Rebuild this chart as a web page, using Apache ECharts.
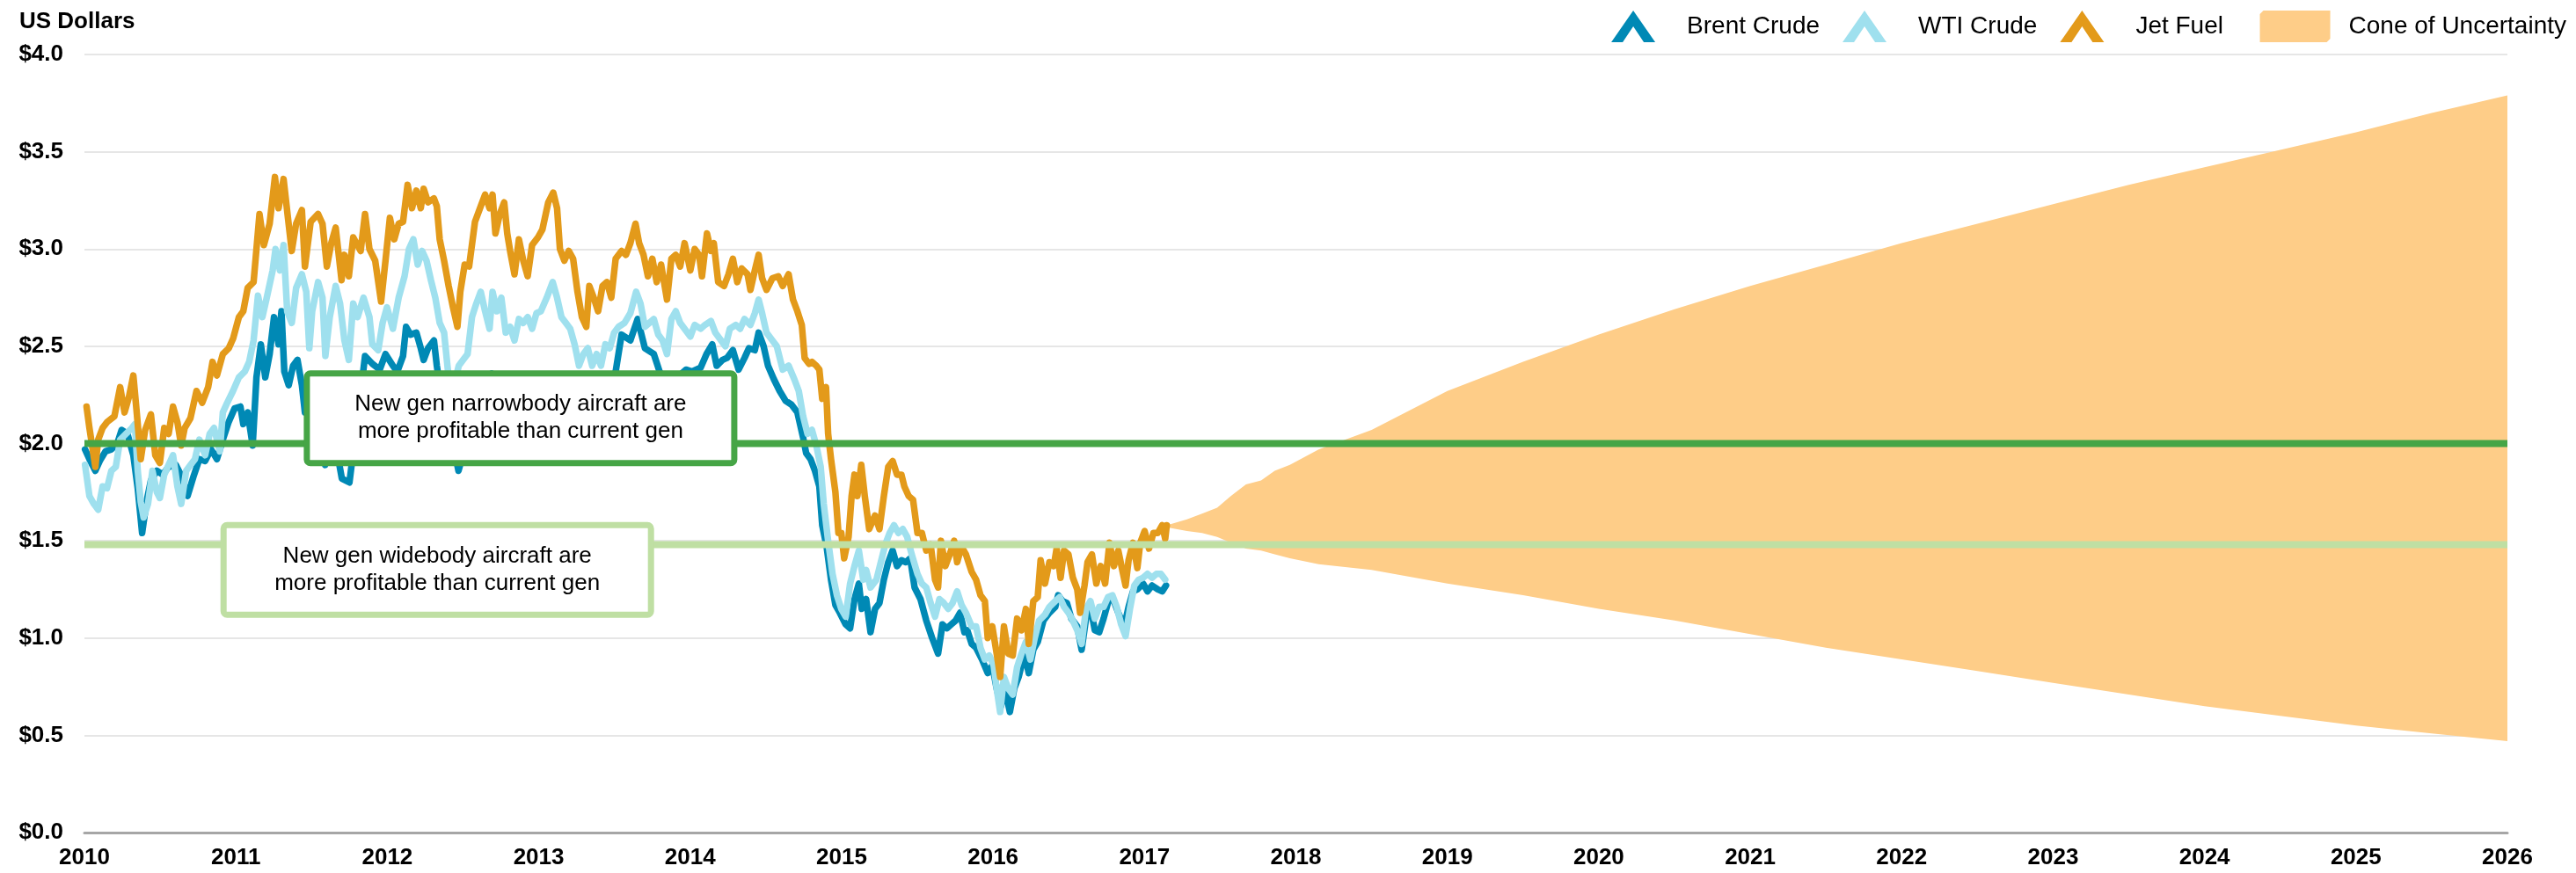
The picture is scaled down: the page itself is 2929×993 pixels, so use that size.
<!DOCTYPE html>
<html>
<head>
<meta charset="utf-8">
<script src="https://cdn.jsdelivr.net/npm/echarts@6/dist/echarts.min.js"></script>
<style>
  html, body { margin: 0; padding: 0; background: #fff; }
  #main { width: 2929px; height: 993px; }
</style>
</head>
<body>
<div id="main"></div>
<script>
// prices in US dollars per gallon, x = decimal year
var jetFuel = [
  [2010.014,2.19],[2010.033,2.08],[2010.072,1.88],[2010.091,2.02],[2010.120,2.08],[2010.149,2.11],[2010.198,2.14],[2010.236,2.29],[2010.265,2.16],[2010.294,2.24],[2010.323,2.35],[2010.343,2.18],[2010.372,1.92],[2010.401,2.07],[2010.439,2.15],[2010.468,1.94],[2010.498,1.90],[2010.527,2.08],[2010.556,2.05],[2010.585,2.19],[2010.614,2.11],[2010.639,1.99],[2010.662,2.08],[2010.700,2.13],[2010.740,2.27],[2010.778,2.21],[2010.817,2.29],[2010.846,2.42],[2010.875,2.35],[2010.914,2.46],[2010.953,2.49],[2010.982,2.54],
  [2011.020,2.65],[2011.049,2.68],[2011.078,2.80],[2011.117,2.83],[2011.136,3.00],[2011.156,3.18],[2011.185,3.02],[2011.223,3.13],[2011.258,3.37],[2011.282,3.21],[2011.315,3.36],[2011.344,3.16],[2011.369,2.99],[2011.398,3.13],[2011.436,3.20],[2011.456,2.91],[2011.494,3.14],[2011.543,3.18],[2011.572,3.13],[2011.601,2.91],[2011.630,3.03],[2011.659,3.11],[2011.698,2.84],[2011.717,2.97],[2011.746,2.86],[2011.775,3.06],[2011.824,2.99],[2011.853,3.18],[2011.882,3.00],[2011.920,2.94],[2011.959,2.73],[2011.988,2.94],
  [2012.017,3.16],[2012.046,3.05],[2012.075,3.13],[2012.104,3.14],[2012.134,3.33],[2012.163,3.21],[2012.192,3.30],[2012.221,3.21],[2012.240,3.31],[2012.269,3.24],[2012.308,3.26],[2012.327,3.22],[2012.346,3.05],[2012.375,2.94],[2012.405,2.81],[2012.434,2.70],[2012.463,2.60],[2012.482,2.78],[2012.511,2.92],[2012.540,2.91],[2012.579,3.14],[2012.617,3.22],[2012.646,3.28],[2012.675,3.21],[2012.695,3.28],[2012.714,3.08],[2012.743,3.18],[2012.772,3.24],[2012.792,3.08],[2012.811,2.99],[2012.840,2.87],[2012.869,3.05],[2012.898,2.94],[2012.927,2.86],[2012.956,3.02],[2012.995,3.06],
  [2013.024,3.10],[2013.063,3.24],[2013.096,3.29],[2013.121,3.21],[2013.140,3.00],[2013.169,2.94],[2013.198,2.99],[2013.227,2.95],[2013.256,2.78],[2013.285,2.65],[2013.314,2.60],[2013.334,2.81],[2013.363,2.75],[2013.392,2.68],[2013.421,2.81],[2013.450,2.83],[2013.479,2.75],[2013.508,2.95],[2013.547,2.99],[2013.576,2.97],[2013.605,3.03],[2013.639,3.13],[2013.663,3.03],[2013.692,2.97],[2013.721,2.86],[2013.750,2.95],[2013.779,2.83],[2013.808,2.92],[2013.847,2.74],[2013.876,2.95],[2013.905,2.97],[2013.934,2.91],[2013.963,3.03],
  [2014.001,2.89],[2014.030,3.00],[2014.059,2.97],[2014.078,2.86],[2014.111,3.08],[2014.137,2.99],[2014.156,3.03],[2014.185,2.83],[2014.224,2.81],[2014.253,2.87],[2014.282,2.95],[2014.311,2.83],[2014.340,2.90],[2014.379,2.87],[2014.398,2.79],[2014.427,2.89],[2014.452,2.97],[2014.475,2.85],[2014.504,2.79],[2014.543,2.85],[2014.582,2.86],[2014.611,2.81],[2014.650,2.87],[2014.679,2.74],[2014.708,2.68],[2014.737,2.61],[2014.756,2.44],[2014.785,2.41],[2014.804,2.42],[2014.833,2.40],[2014.853,2.38],[2014.872,2.23],[2014.897,2.29],[2014.911,2.05],[2014.930,1.92],[2014.959,1.75],[2014.979,1.54],[2014.998,1.54],
  [2015.017,1.41],[2015.046,1.52],[2015.066,1.73],[2015.085,1.84],[2015.104,1.73],[2015.130,1.89],[2015.153,1.73],[2015.182,1.56],[2015.221,1.63],[2015.250,1.56],[2015.279,1.73],[2015.308,1.88],[2015.337,1.91],[2015.366,1.84],[2015.395,1.84],[2015.414,1.78],[2015.443,1.73],[2015.472,1.71],[2015.501,1.54],[2015.530,1.54],[2015.559,1.45],[2015.588,1.48],[2015.617,1.30],[2015.637,1.26],[2015.656,1.50],[2015.685,1.37],[2015.714,1.43],[2015.743,1.50],[2015.763,1.39],[2015.792,1.47],[2015.821,1.43],[2015.859,1.34],[2015.888,1.30],[2015.917,1.22],[2015.946,1.19],[2015.965,1.00],[2015.995,1.06],
  [2016.024,0.92],[2016.047,0.80],[2016.072,1.06],[2016.101,0.92],[2016.130,0.91],[2016.159,1.10],[2016.188,1.04],[2016.217,1.15],[2016.236,0.97],[2016.266,1.19],[2016.295,1.21],[2016.314,1.40],[2016.343,1.28],[2016.372,1.39],[2016.401,1.37],[2016.420,1.46],[2016.446,1.31],[2016.469,1.45],[2016.498,1.43],[2016.527,1.31],[2016.556,1.25],[2016.575,1.13],[2016.604,1.27],[2016.624,1.39],[2016.653,1.43],[2016.682,1.28],[2016.711,1.37],[2016.740,1.28],[2016.769,1.49],[2016.798,1.37],[2016.827,1.45],[2016.856,1.34],[2016.875,1.27],[2016.895,1.40],[2016.924,1.49],[2016.953,1.36],[2016.972,1.49],
  [2017.001,1.55],[2017.030,1.46],[2017.059,1.54],[2017.088,1.54],[2017.117,1.58],[2017.137,1.51],[2017.147,1.58]
];

var brentCrude = [
  [2010.004,1.97],[2010.033,1.92],[2010.072,1.86],[2010.101,1.91],[2010.139,1.96],[2010.178,1.97],[2010.217,2.00],[2010.246,2.07],[2010.284,2.05],[2010.323,1.94],[2010.352,1.77],[2010.381,1.54],[2010.410,1.70],[2010.439,1.81],[2010.478,1.86],[2010.517,1.84],[2010.555,1.88],[2010.604,1.89],[2010.643,1.83],[2010.681,1.73],[2010.720,1.83],[2010.759,1.92],[2010.797,1.91],[2010.836,1.97],[2010.875,1.92],[2010.914,2.02],[2010.952,2.11],[2010.991,2.18],
  [2011.030,2.19],[2011.049,2.10],[2011.078,2.16],[2011.111,1.99],[2011.136,2.34],[2011.165,2.51],[2011.194,2.34],[2011.223,2.46],[2011.252,2.65],[2011.282,2.51],[2011.301,2.68],[2011.320,2.37],[2011.349,2.30],[2011.378,2.40],[2011.407,2.43],[2011.436,2.30],[2011.456,2.16],[2011.494,2.30],[2011.540,2.12],[2011.590,1.89],[2011.630,2.05],[2011.670,1.95],[2011.700,1.82],[2011.750,1.80],[2011.790,2.05],[2011.830,2.30],[2011.853,2.45],[2011.901,2.41],[2011.950,2.38],[2011.988,2.46],
  [2012.037,2.40],[2012.066,2.37],[2012.104,2.45],[2012.124,2.60],[2012.153,2.56],[2012.192,2.57],[2012.221,2.49],[2012.240,2.43],[2012.269,2.49],[2012.308,2.53],[2012.327,2.40],[2012.346,2.30],[2012.380,2.20],[2012.420,2.05],[2012.470,1.86],[2012.520,2.00],[2012.580,2.15],[2012.650,2.25],[2012.690,2.36],[2012.750,2.20],[2012.800,2.25],[2012.850,2.05],[2012.900,2.10],[2012.950,2.15],
  [2013.000,2.20],[2013.050,2.28],[2013.100,2.30],[2013.150,2.20],[2013.200,2.15],[2013.270,2.08],[2013.330,2.18],[2013.400,2.22],[2013.460,2.30],[2013.508,2.37],[2013.547,2.56],[2013.605,2.53],[2013.653,2.64],[2013.701,2.49],[2013.760,2.46],[2013.798,2.37],[2013.850,2.30],[2013.900,2.33],[2013.972,2.38],
  [2014.011,2.37],[2014.069,2.39],[2014.108,2.46],[2014.146,2.51],[2014.175,2.40],[2014.214,2.43],[2014.243,2.44],[2014.282,2.48],[2014.320,2.38],[2014.359,2.44],[2014.388,2.49],[2014.427,2.48],[2014.452,2.57],[2014.485,2.50],[2014.514,2.40],[2014.553,2.33],[2014.591,2.27],[2014.630,2.22],[2014.669,2.20],[2014.708,2.16],[2014.746,2.03],[2014.766,1.95],[2014.795,1.92],[2014.824,1.86],[2014.853,1.78],[2014.872,1.58],[2014.901,1.47],[2014.930,1.30],[2014.959,1.17],[2014.988,1.13],
  [2015.027,1.07],[2015.056,1.05],[2015.085,1.20],[2015.114,1.28],[2015.133,1.15],[2015.162,1.20],[2015.191,1.03],[2015.221,1.15],[2015.250,1.18],[2015.279,1.30],[2015.308,1.39],[2015.337,1.45],[2015.366,1.37],[2015.395,1.40],[2015.424,1.39],[2015.453,1.41],[2015.482,1.26],[2015.521,1.20],[2015.559,1.09],[2015.598,1.00],[2015.637,0.92],[2015.666,1.07],[2015.695,1.05],[2015.724,1.07],[2015.753,1.09],[2015.782,1.13],[2015.811,1.03],[2015.830,1.04],[2015.859,0.97],[2015.888,0.95],[2015.927,0.89],[2015.965,0.82],[2015.995,0.86],
  [2016.024,0.74],[2016.053,0.65],[2016.072,0.76],[2016.111,0.62],[2016.140,0.74],[2016.169,0.80],[2016.207,0.92],[2016.236,0.82],[2016.266,0.94],[2016.295,0.98],[2016.333,1.09],[2016.372,1.13],[2016.411,1.16],[2016.430,1.22],[2016.459,1.19],[2016.488,1.18],[2016.517,1.10],[2016.556,1.06],[2016.585,0.94],[2016.614,1.10],[2016.643,1.16],[2016.672,1.04],[2016.701,1.03],[2016.730,1.10],[2016.769,1.21],[2016.798,1.19],[2016.827,1.13],[2016.866,1.06],[2016.895,1.16],[2016.924,1.24],[2016.953,1.25],[2016.991,1.28],
  [2017.020,1.24],[2017.050,1.27],[2017.088,1.25],[2017.117,1.24],[2017.142,1.27]
];

var wtiCrude = [
  [2010.004,1.89],[2010.033,1.73],[2010.062,1.69],[2010.091,1.66],[2010.120,1.78],[2010.149,1.77],[2010.178,1.86],[2010.207,1.88],[2010.236,2.02],[2010.275,2.05],[2010.314,2.08],[2010.333,2.10],[2010.352,1.86],[2010.372,1.70],[2010.391,1.62],[2010.420,1.69],[2010.449,1.86],[2010.478,1.75],[2010.498,1.72],[2010.527,1.84],[2010.556,1.89],[2010.585,1.94],[2010.614,1.78],[2010.639,1.69],[2010.672,1.86],[2010.701,1.89],[2010.730,1.92],[2010.759,2.02],[2010.797,1.94],[2010.827,2.05],[2010.856,2.08],[2010.894,1.96],[2010.914,2.16],[2010.943,2.21],[2010.981,2.27],
  [2011.020,2.34],[2011.059,2.37],[2011.088,2.42],[2011.117,2.53],[2011.146,2.76],[2011.175,2.65],[2011.204,2.75],[2011.243,2.89],[2011.262,3.00],[2011.291,2.89],[2011.315,3.02],[2011.339,2.68],[2011.369,2.62],[2011.398,2.80],[2011.436,2.87],[2011.465,2.78],[2011.485,2.49],[2011.504,2.68],[2011.543,2.83],[2011.572,2.75],[2011.591,2.45],[2011.620,2.65],[2011.659,2.81],[2011.688,2.72],[2011.717,2.53],[2011.746,2.43],[2011.775,2.72],[2011.804,2.65],[2011.843,2.75],[2011.882,2.65],[2011.901,2.51],[2011.940,2.48],[2011.969,2.62],[2011.998,2.70],
  [2012.037,2.59],[2012.075,2.75],[2012.114,2.86],[2012.143,3.00],[2012.172,3.05],[2012.201,2.92],[2012.230,2.99],[2012.259,2.94],[2012.288,2.84],[2012.317,2.75],[2012.346,2.62],[2012.375,2.57],[2012.405,2.34],[2012.434,2.28],[2012.472,2.40],[2012.501,2.43],[2012.530,2.46],[2012.559,2.65],[2012.588,2.72],[2012.617,2.78],[2012.646,2.68],[2012.675,2.59],[2012.695,2.78],[2012.724,2.68],[2012.753,2.75],[2012.782,2.57],[2012.811,2.60],[2012.840,2.53],[2012.869,2.64],[2012.898,2.62],[2012.927,2.65],[2012.956,2.59],[2012.985,2.67],
  [2013.014,2.68],[2013.053,2.75],[2013.092,2.83],[2013.121,2.75],[2013.150,2.65],[2013.179,2.62],[2013.208,2.59],[2013.237,2.51],[2013.266,2.40],[2013.295,2.46],[2013.324,2.49],[2013.353,2.40],[2013.382,2.46],[2013.411,2.40],[2013.440,2.51],[2013.469,2.49],[2013.498,2.57],[2013.527,2.60],[2013.566,2.62],[2013.605,2.67],[2013.643,2.78],[2013.672,2.72],[2013.701,2.60],[2013.730,2.62],[2013.760,2.64],[2013.789,2.56],[2013.818,2.53],[2013.847,2.46],[2013.876,2.64],[2013.905,2.68],[2013.934,2.62],[2013.963,2.59],
  [2014.001,2.55],[2014.030,2.61],[2014.069,2.59],[2014.098,2.61],[2014.137,2.63],[2014.166,2.57],[2014.204,2.53],[2014.233,2.50],[2014.262,2.59],[2014.301,2.61],[2014.330,2.59],[2014.359,2.64],[2014.398,2.61],[2014.427,2.67],[2014.452,2.74],[2014.475,2.67],[2014.504,2.57],[2014.543,2.53],[2014.572,2.50],[2014.611,2.38],[2014.650,2.40],[2014.688,2.33],[2014.717,2.27],[2014.746,2.14],[2014.775,2.05],[2014.804,2.07],[2014.833,1.99],[2014.862,1.88],[2014.882,1.69],[2014.911,1.50],[2014.940,1.33],[2014.969,1.22],[2014.998,1.15],
  [2015.027,1.11],[2015.056,1.28],[2015.085,1.37],[2015.114,1.45],[2015.143,1.30],[2015.162,1.35],[2015.191,1.26],[2015.230,1.30],[2015.259,1.39],[2015.288,1.48],[2015.317,1.54],[2015.346,1.58],[2015.375,1.54],[2015.404,1.56],[2015.433,1.52],[2015.463,1.43],[2015.501,1.33],[2015.530,1.28],[2015.559,1.26],[2015.588,1.18],[2015.617,1.11],[2015.646,1.20],[2015.675,1.18],[2015.704,1.15],[2015.733,1.18],[2015.763,1.24],[2015.792,1.17],[2015.821,1.13],[2015.859,1.06],[2015.888,1.06],[2015.917,0.95],[2015.946,0.89],[2015.975,0.91],
  [2016.004,0.86],[2016.024,0.74],[2016.047,0.62],[2016.072,0.80],[2016.101,0.74],[2016.130,0.71],[2016.159,0.85],[2016.188,0.92],[2016.217,0.98],[2016.246,0.89],[2016.275,1.00],[2016.304,1.09],[2016.343,1.12],[2016.372,1.16],[2016.411,1.19],[2016.440,1.21],[2016.469,1.16],[2016.498,1.13],[2016.527,1.09],[2016.556,1.04],[2016.585,0.97],[2016.614,1.15],[2016.643,1.19],[2016.672,1.10],[2016.701,1.16],[2016.730,1.16],[2016.759,1.21],[2016.788,1.22],[2016.817,1.16],[2016.846,1.07],[2016.875,1.01],[2016.904,1.15],[2016.933,1.27],[2016.962,1.30],[2016.991,1.31],
  [2017.020,1.33],[2017.050,1.31],[2017.079,1.33],[2017.108,1.33],[2017.137,1.30]
];

var coneYears = [2017.147,2017.28,2017.38,2017.48,2017.57,2017.67,2017.77,2017.86,2017.96,2018.15,2018.5,2019,2019.5,2020,2020.5,2021,2021.5,2022,2022.5,2023,2023.5,2024,2024.5,2025,2025.5,2026];
var coneHigh = [1.58,1.61,1.64,1.67,1.73,1.79,1.81,1.86,1.89,1.97,2.07,2.27,2.42,2.56,2.69,2.81,2.92,3.03,3.13,3.23,3.33,3.42,3.51,3.60,3.70,3.79];
var coneLow  = [1.57,1.55,1.54,1.52,1.49,1.46,1.45,1.43,1.41,1.38,1.35,1.28,1.22,1.15,1.09,1.02,0.95,0.89,0.83,0.77,0.71,0.65,0.60,0.55,0.51,0.47];

var narrowbodyLevel = 2.0;
var widebodyLevel = 1.48;

var yearTicks = [2010, 2026];
var priceTicks = [0, 4, 0.5];

var annotations = [
  { text: 'New gen narrowbody aircraft are\nmore profitable than current gen', at: [2012.88, 2.13], color: '#46a546' },
  { text: 'New gen widebody aircraft are\nmore profitable than current gen', at: [2012.33, 1.35], color: '#bfdfa3' }
];

var FONT = '"Liberation Sans", Arial, sans-serif';
// chevron icon 50x36, cone icon 80x36 (corners clipped)
var chevron = 'path://M0,36 L25,0 L50,36 L37,36 L25,18 L13,36 Z';
var chamfer = 'path://M4,0 L80,0 L80,32 L76,36 L0,36 L0,4 Z';

var coneData = coneYears.map(function (y, i) { return [y, coneLow[i], coneHigh[i]]; });

var myChart = echarts.init(document.getElementById('main'));

function priceLine(name, data, color, z) {
  return {
    name: name, type: 'line', data: data, z: z,
    showSymbol: false, symbol: 'none', silent: true,
    itemStyle: { color: color },
    lineStyle: { color: color, width: 7.5, cap: 'round', join: 'round' }
  };
}

function levelLine(value, color) {
  return {
    type: 'line', z: 6, silent: true, symbol: 'none',
    data: [[yearTicks[0], value], [yearTicks[1], value]],
    lineStyle: { color: color, width: 8 }
  };
}

var option = {
  animation: false,
  backgroundColor: '#fff',
  grid: { left: 96, right: 78, top: 62, bottom: 46 },
  legend: {
    right: 6, top: 7,
    itemWidth: 80, itemHeight: 36, itemGap: 26,
    itemStyle: { borderWidth: 0 },
    // a little extra room before the cone swatch
    formatter: function (name) { return name === 'Jet Fuel' ? name + '\u00a0\u00a0' : name; },
    textStyle: { fontFamily: FONT, fontSize: 28, color: '#000', padding: [0, 0, 0, 16] },
    data: [
      { name: 'Brent Crude', icon: chevron },
      { name: 'WTI Crude', icon: chevron },
      { name: 'Jet Fuel', icon: chevron },
      { name: 'Cone of Uncertainty', icon: chamfer }
    ]
  },
  graphic: [{
    type: 'text', left: 22, top: 12,
    style: { text: 'US Dollars', font: 'bold 26px ' + FONT, fill: '#000' }
  }],
  xAxis: {
    type: 'value', min: yearTicks[0], max: yearTicks[1], interval: 1,
    axisLine: { show: true, lineStyle: { color: '#a6a6a6', width: 3 } },
    axisTick: { show: false },
    splitLine: { show: false },
    axisLabel: { margin: 16, color: '#000', fontWeight: 'bold', fontSize: 26, fontFamily: FONT,
      formatter: function (v) { return String(v); } }
  },
  yAxis: {
    type: 'value', min: priceTicks[0], max: priceTicks[1], interval: priceTicks[2],
    axisLine: { show: false }, axisTick: { show: false },
    splitLine: { lineStyle: { color: '#e6e6e6', width: 2 } },
    axisLabel: { margin: 24, color: '#000', fontWeight: 'bold', fontSize: 26, fontFamily: FONT,
      formatter: function (v) { return '$' + v.toFixed(1); } }
  },
  series: [
    {
      name: 'Cone of Uncertainty', type: 'custom', z: 1, silent: true,
      data: coneData,
      encode: { x: 0, y: [1, 2] },
      itemStyle: { color: '#fecd88' },
      renderItem: function (params, api) {
        if (params.dataIndex !== 0) return null;
        var pts = [];
        for (var i = 0; i < coneData.length; i++) pts.push(api.coord([coneData[i][0], coneData[i][2]]));
        for (var j = coneData.length - 1; j >= 0; j--) pts.push(api.coord([coneData[j][0], coneData[j][1]]));
        return { type: 'polygon', shape: { points: pts }, style: { fill: '#fecd88' } };
      }
    },
    priceLine('Brent Crude', brentCrude, '#0089b5', 3),
    priceLine('WTI Crude', wtiCrude, '#9fe0ee', 4),
    priceLine('Jet Fuel', jetFuel, '#e39a1a', 5),
    levelLine(narrowbodyLevel, '#46a546'),
    levelLine(widebodyLevel, '#bfdfa3')
  ]
};

myChart.setOption(option);

// annotation boxes anchored in data coordinates
var boxW = 486, boxH = 102;
var boxes = annotations.map(function (a) {
  var c = myChart.convertToPixel({ gridIndex: 0 }, a.at);
  return {
    type: 'group', z: 100,
    children: [
      { type: 'rect', z: 100,
        shape: { x: c[0] - boxW / 2, y: c[1] - boxH / 2, width: boxW, height: boxH, r: 4 },
        style: { fill: '#fff', stroke: a.color, lineWidth: 7 } },
      { type: 'text', z: 101,
        style: { text: a.text, x: c[0], y: c[1], align: 'center', verticalAlign: 'middle',
          font: '26px ' + FONT, lineHeight: 31, fill: '#000' } }
    ]
  };
});
myChart.setOption({ graphic: option.graphic.concat(boxes) });
</script>
</body>
</html>
